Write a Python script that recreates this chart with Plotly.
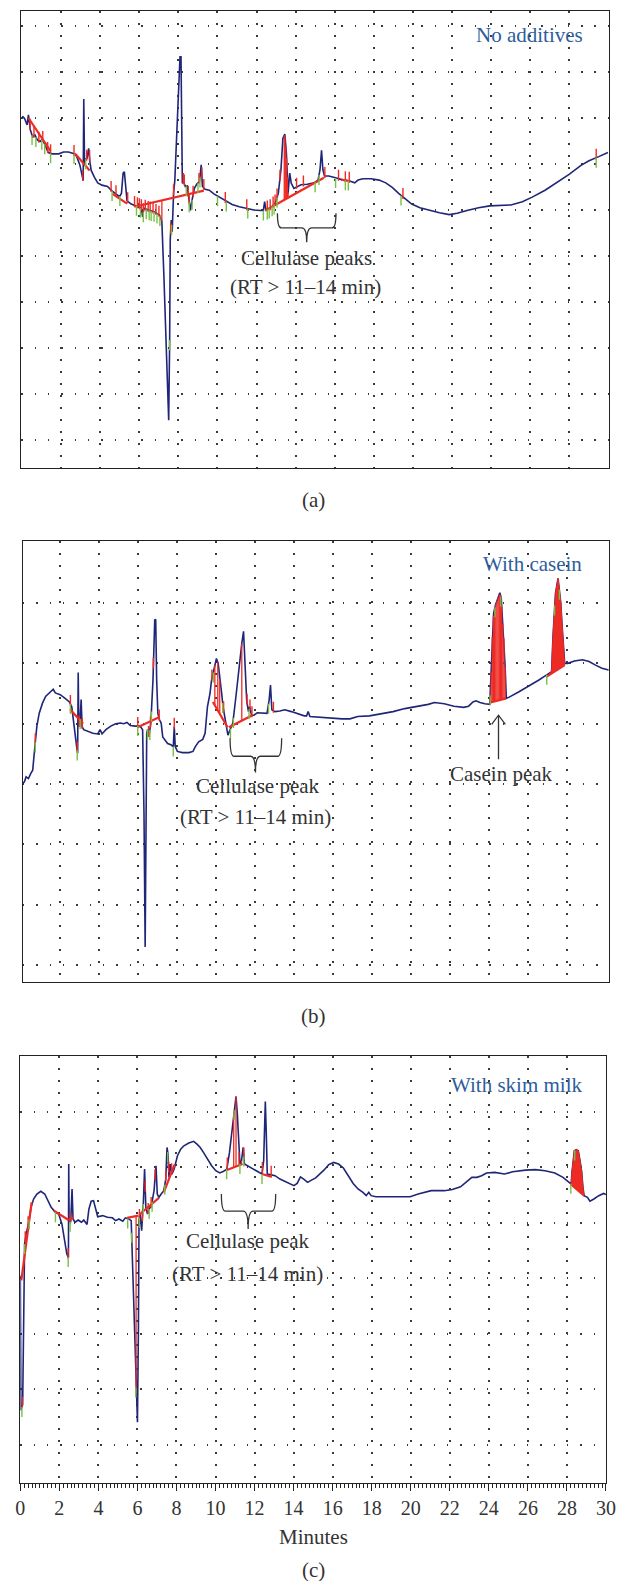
import numpy as np
import plotly.graph_objects as go

# ---------------- DATA ----------------
# Panel (a) No additives: retention time (min), detector response (grid units)
A_T = [0.0,0.115,0.25,0.315,0.415,0.53,0.65,0.78,0.915,1.03,1.2,1.33,1.53,1.865,2.115,2.365,2.615,2.78,2.95,3.03,3.12,3.15,3.19,3.215,3.315,3.4,3.465,3.53,3.7,3.865,4.08,4.365,4.58,4.78,4.98,5.08,5.165,5.23,5.3,5.365,5.58,5.865,6.1,6.165,6.23,6.45,6.75,7.03,7.15,7.25,7.38,7.5,7.55,7.58,7.63,7.68,7.75,7.815,7.9,8.0,8.08,8.13,8.165,8.2,8.265,8.35,8.45,8.53,8.615,8.7,8.815,8.95,9.08,9.165,9.23,9.365,9.58,9.815,10.08,10.415,10.75,11.115,11.48,11.865,12.2,12.35,12.415,12.48,12.7,12.95,13.115,13.25,13.35,13.45,13.53,13.615,13.7,13.78,13.915,14.08,14.28,14.6,14.95,15.15,15.25,15.33,15.4,15.48,15.7,15.95,16.2,16.45,16.7,16.92,17.03,17.2,17.45,17.87,18.28,18.62,18.95,19.28,19.62,19.95,20.37,20.87,21.37,21.87,22.28,22.78,23.37,23.95,24.53,25.03,25.62,26.12,26.78,27.45,28.03,28.62,29.03,29.53,30.0]
A_Y = [7.04,6.99,6.85,7.07,6.74,6.59,6.63,6.52,6.49,6.54,6.38,6.25,6.22,6.22,6.26,6.26,6.23,6.17,5.98,5.80,5.64,7.41,6.0,6.09,6.12,6.34,6.04,5.86,5.71,5.59,5.54,5.51,5.42,5.35,5.29,5.36,5.80,5.83,5.51,5.20,5.13,5.09,5.04,4.85,5.04,5.0,4.96,4.89,4.75,3.62,1.81,0.43,2.17,4.35,4.78,4.53,5.36,5.65,6.52,7.61,8.33,8.33,6.88,5.58,5.62,5.51,5.52,5.22,4.99,5.22,5.47,5.57,5.62,5.98,5.51,5.45,5.43,5.35,5.28,5.19,5.12,5.07,5.04,5.0,4.99,4.99,5.18,5.0,5.04,5.14,5.36,5.87,6.56,6.65,6.23,5.36,5.8,5.58,5.47,5.51,5.55,5.56,5.59,5.65,5.87,6.30,5.87,5.74,5.74,5.71,5.68,5.65,5.64,5.61,5.59,5.65,5.68,5.68,5.65,5.59,5.49,5.36,5.24,5.13,5.05,4.99,4.94,4.90,4.93,4.99,5.05,5.09,5.10,5.11,5.18,5.28,5.43,5.61,5.78,5.97,6.07,6.16,6.25]
A_BASE = [(0.32,7.0,1.45,6.28),(2.7,6.23,3.45,5.86),(4.62,5.35,5.37,5.14),(5.75,5.07,9.3,5.42),(12.45,4.99,15.45,5.70),(16.35,5.66,16.8,5.62)]
A_DROP_T = [7.15,13.42,13.46,13.5,13.54,13.58,13.62]
A_AREAS = []
A_RED_T = [0.4,0.6,0.85,1.05,1.3,1.45,2.65,3.1,3.3,3.45,4.55,4.8,5.4,5.75,5.9,6.0,6.1,6.2,6.3,6.45,6.55,6.7,6.85,7.0,7.6,7.75,8.25,8.3,8.5,8.55,8.75,9.05,9.2,9.3,10.4,11.5,12.55,12.7,12.85,12.95,13.05,13.2,14.05,14.4,15.5,16.2,16.55,16.75,19.5,29.4]
A_GREEN_T = [0.5,0.7,1.0,1.15,1.45,2.65,3.25,4.6,5.0,5.85,6.05,6.2,6.35,6.5,6.6,6.75,6.9,7.05,7.55,7.65,8.4,8.55,8.7,9.0,9.1,10.0,10.45,11.55,12.35,12.55,12.65,12.8,12.9,13.05,15.0,15.2,16.05,16.55,16.7,19.4,29.4]

# Panel (b) With casein
B_T = [0.12,0.2,0.28,0.4,0.53,0.62,0.73,0.83,0.95,1.12,1.28,1.5,1.67,1.78,2.03,2.28,2.5,2.62,2.73,2.87,2.92,2.95,2.98,3.03,3.1,3.15,3.23,3.45,3.7,3.95,4.07,4.17,4.37,4.62,4.87,5.12,5.28,5.45,5.62,5.87,6.12,6.25,6.32,6.38,6.43,6.46,6.5,6.57,6.67,6.78,6.87,6.92,6.97,7.03,7.12,7.2,7.28,7.4,7.53,7.7,7.82,7.87,7.92,8.03,8.28,8.62,8.83,8.95,9.12,9.33,9.45,9.57,9.7,9.78,9.9,10.03,10.12,10.2,10.3,10.37,10.5,10.62,10.73,10.87,11.03,11.2,11.33,11.42,11.5,11.58,11.67,11.73,11.83,11.95,12.12,12.37,12.62,12.73,12.8,12.87,13.03,13.28,13.53,13.87,14.2,14.53,14.65,14.73,14.82,15.2,15.87,16.47,16.87,17.27,17.87,18.48,19.08,19.68,20.28,20.88,21.2,21.7,22.2,22.7,22.95,23.17,23.33,23.53,23.78,24.03,24.12,24.17,24.23,24.33,24.45,24.55,24.62,24.68,24.75,24.82,24.88,25.03,25.53,26.03,26.53,26.95,27.2,27.27,27.33,27.4,27.53,27.6,27.67,27.73,27.8,27.87,28.03,28.37,28.78,29.12,29.45,29.78,30.12]
B_Y = [3.01,3.04,3.12,3.09,3.18,3.23,3.62,3.95,4.17,4.34,4.45,4.51,4.57,4.51,4.48,4.42,4.36,4.28,3.95,3.62,3.51,4.85,4.01,3.95,4.40,3.95,3.90,3.87,3.84,3.83,3.90,3.83,3.90,3.96,4.0,4.01,4.0,4.02,3.97,3.96,3.96,3.90,2.51,0.30,2.5,3.84,3.90,3.78,4.01,4.72,5.72,5.73,4.72,4.17,4.06,4.01,3.78,3.73,3.67,3.65,3.62,3.95,3.62,3.54,3.52,3.52,3.54,3.62,3.70,3.74,3.84,4.28,4.50,4.72,4.89,5.08,5.0,4.72,4.50,4.28,4.01,3.81,3.90,4.01,4.45,5.0,5.33,5.53,5.0,4.39,4.2,4.28,4.14,4.14,4.18,4.17,4.17,4.39,4.64,4.23,4.2,4.21,4.23,4.2,4.16,4.13,4.13,4.2,4.12,4.11,4.10,4.08,4.08,4.12,4.13,4.16,4.20,4.25,4.28,4.32,4.35,4.33,4.29,4.27,4.29,4.36,4.38,4.35,4.33,4.32,5.0,5.55,5.83,5.97,6.08,6.17,6.08,5.72,5.50,4.94,4.42,4.44,4.53,4.62,4.72,4.81,4.86,5.44,5.88,6.16,6.41,6.22,6.0,5.66,5.28,5.0,5.0,5.04,5.06,5.03,4.97,4.92,4.89]
B_BASE = [(2.53,4.24,3.2,4.0),(6.0,3.94,7.12,4.11),(9.85,4.36,10.6,3.94),(10.67,3.94,11.87,4.14),(24.07,4.35,24.87,4.42),(26.95,4.78,27.87,4.97)]
B_DROP_T = [9.95,10.1,10.2,11.33,24.1,24.16,24.22,24.28,24.34,24.4,24.46,24.52,24.58,24.64,24.7,24.76,24.82]
B_AREAS = [(26.95,27.87)]
B_RED_T = [0.75,2.55,2.9,3.0,3.15,6.0,6.55,6.65,6.8,7.1,7.87,9.8,10.4,11.6,11.75,11.85,12.95]
B_GREEN_T = [0.75,2.55,2.9,3.05,6.0,6.5,6.62,6.7,7.82,9.87,10.35,10.75,10.9,11.7,12.7,24.05,24.3,24.6,26.95,27.35,27.6]

# Panel (c) With skim milk
C_T = [0.0,0.03,0.12,0.15,0.18,0.22,0.3,0.415,0.55,0.68,0.85,1.05,1.25,1.415,1.58,1.8,1.965,2.13,2.25,2.38,2.465,2.48,2.5,2.58,2.65,2.7,2.8,2.965,3.13,3.25,3.415,3.515,3.63,3.75,3.85,3.965,4.215,4.465,4.715,4.88,5.05,5.25,5.38,5.55,5.68,5.8,5.915,6.0,6.05,6.08,6.13,6.215,6.3,6.365,6.43,6.515,6.6,6.715,6.85,6.95,7.015,7.1,7.215,7.35,7.45,7.515,7.565,7.615,7.68,7.765,7.88,8.05,8.215,8.38,8.63,8.88,9.05,9.215,9.38,9.58,9.8,10.015,10.215,10.415,10.58,10.715,10.85,10.965,11.05,11.115,11.18,11.25,11.33,11.415,11.48,11.63,11.88,12.13,12.38,12.465,12.515,12.55,12.6,12.65,12.8,13.05,13.3,13.55,13.8,14.015,14.18,14.35,14.515,14.715,14.915,15.13,15.55,15.8,16.05,16.3,16.55,16.8,17.05,17.3,17.55,17.72,17.85,17.97,18.22,18.72,19.3,19.97,20.38,21.05,21.72,22.13,22.55,22.88,23.13,23.38,23.63,23.88,24.3,24.8,25.22,25.88,26.38,26.88,27.38,27.8,28.05,28.22,28.25,28.32,28.38,28.48,28.58,28.67,28.75,28.82,28.88,29.05,29.18,29.38,29.63,29.88,30.0]
C_Y = [3.05,0.62,0.72,1.6,3.3,3.62,3.80,3.98,4.28,4.43,4.52,4.57,4.52,4.40,4.28,4.19,4.16,3.98,3.74,3.44,3.37,5.06,4.04,4.01,4.61,4.07,4.01,4.05,4.01,4.05,3.97,4.25,4.39,4.40,4.25,4.11,4.13,4.10,4.09,4.04,4.07,4.03,4.09,4.07,4.04,2.72,1.03,0.40,2.12,4.04,4.16,3.86,4.34,4.97,4.28,4.16,4.25,4.31,4.58,5.03,4.52,4.46,4.52,4.58,4.79,5.36,5.24,4.82,5.06,4.88,4.97,5.21,5.33,5.39,5.44,5.47,5.42,5.36,5.27,5.15,5.03,4.94,4.90,4.93,4.97,5.27,5.66,6.09,6.28,5.97,5.36,5.06,5.12,5.36,5.06,5.03,4.99,4.94,4.88,5.12,5.85,6.19,5.60,4.88,4.87,4.85,4.79,4.75,4.71,4.67,4.71,4.83,4.79,4.73,4.77,4.81,4.95,5.05,5.09,5.06,4.99,4.85,4.71,4.61,4.55,4.49,4.55,4.49,4.47,4.47,4.47,4.47,4.52,4.58,4.58,4.60,4.65,4.75,4.82,4.82,4.85,4.90,4.91,4.88,4.92,4.95,4.96,4.94,4.90,4.82,4.75,4.70,4.88,5.18,5.30,5.32,5.30,5.12,4.94,4.64,4.49,4.46,4.39,4.43,4.49,4.53,4.51]
C_BASE = [(0.05,2.96,0.58,4.37),(1.72,4.22,2.47,4.05),(2.47,4.05,2.72,4.09),(5.47,4.09,6.05,4.13),(6.1,4.15,7.1,4.45),(7.35,4.55,7.9,5.05),(10.55,4.95,11.38,5.06),(12.38,4.88,12.88,4.83),(28.18,4.70,28.88,4.49)]
C_DROP_T = [5.93,10.93,11.05,11.2,11.33]
C_AREAS = [(28.2,28.86)]
C_RED_T = [0.1,0.25,0.4,2.45,2.55,6.1,6.25,6.4,6.55,6.7,6.9,7.45,7.6,7.75,10.6,11.45,12.4,12.85]
C_GREEN_T = [0.08,0.22,0.45,1.8,2.45,2.55,5.5,5.7,5.915,6.1,6.3,6.6,6.75,7.4,7.55,10.57,10.95,11.25,11.45,12.38,28.2,28.4]

X_TICKS = list(range(0, 31, 2))
X_LABELS = [str(v) for v in X_TICKS]

# ---------------- STYLE / LAYOUT ----------------
W, H = 627, 1581
BLUE = '#1f2678'
RED = '#ee2a24'
GREEN = '#78c043'
TXT_BLUE = '#2d5d9b'
TXT = '#333333'
FONT = 'Liberation Serif'
FS = 21

PANELS = [
    dict(xpx=(16.7, 618.3), xr=(-0.05, 30.03), ypx=(11, 468), yr=(-0.609, 9.326), sp=46.0, rows=list(range(0, 10))),
    dict(xpx=(18.3, 619.3), xr=(0.115, 30.165), ypx=(541, 982), yr=(-0.282, 7.028), sp=60.33, rows=list(range(0, 7))),
    dict(xpx=(15.7, 615.7), xr=(0.0, 30.0), ypx=(1056, 1483.3), yr=(-0.70, 7.01), sp=55.4, rows=list(range(0, 7))),
]

DATA = [
    (A_T, A_Y, A_BASE, A_DROP_T, A_AREAS, A_RED_T, A_GREEN_T),
    (B_T, B_Y, B_BASE, B_DROP_T, B_AREAS, B_RED_T, B_GREEN_T),
    (C_T, C_Y, C_BASE, C_DROP_T, C_AREAS, C_RED_T, C_GREEN_T),
]


def seg_val(segs, t):
    for (t0, y0, t1, y1) in segs:
        if t0 <= t <= t1:
            return y0 + (y1 - y0) * (t - t0) / (t1 - t0)
    return None


fig = go.Figure()

for i, (P, D) in enumerate(zip(PANELS, DATA)):
    tt, yy, base, drops, areas, reds, greens = D
    sfx = '' if i == 0 else str(i + 1)
    xa, ya = 'x' + sfx, 'y' + sfx
    sp = P['sp']

    fig.add_trace(go.Scatter(x=tt, y=yy, mode='lines', line=dict(color=BLUE, width=1.6),
                             xaxis=xa, yaxis=ya, hoverinfo='skip'))
    for (t0, t1) in areas:
        inside = [(t, y) for t, y in zip(tt, yy) if t0 < t < t1]
        b0, b1 = seg_val(base, t0), seg_val(base, t1)
        xs = [t0] + [p[0] for p in inside] + [t1, t0]
        ys = [b0] + [p[1] for p in inside] + [b1, b0]
        fig.add_trace(go.Scatter(x=xs, y=ys, mode='lines', fill='toself', fillcolor=RED,
                                 line=dict(color=RED, width=1), xaxis=xa, yaxis=ya, hoverinfo='skip'))
    xs, ys = [], []
    for t in drops:
        b = seg_val(base, t)
        if b is None:
            continue
        xs += [t, t, None]
        ys += [b, float(np.interp(t, tt, yy)), None]
    fig.add_trace(go.Scatter(x=xs, y=ys, mode='lines', line=dict(color=RED, width=1.3),
                             xaxis=xa, yaxis=ya, hoverinfo='skip'))
    xs, ys = [], []
    for (t0, y0, t1, y1) in base:
        xs += [t0, t1, None]
        ys += [y0, y1, None]
    fig.add_trace(go.Scatter(x=xs, y=ys, mode='lines', line=dict(color=RED, width=2.2),
                             xaxis=xa, yaxis=ya, hoverinfo='skip'))
    xs, ys = [], []
    for t in reds:
        y0 = float(np.interp(t, tt, yy))
        xs += [t, t, None]
        ys += [y0 - 2 / sp, y0 + 9 / sp, None]
    fig.add_trace(go.Scatter(x=xs, y=ys, mode='lines', line=dict(color=RED, width=1.4),
                             xaxis=xa, yaxis=ya, hoverinfo='skip'))
    xs, ys = [], []
    for t in greens:
        y0 = float(np.interp(t, tt, yy))
        xs += [t, t, None]
        ys += [y0, y0 - 10 / sp, None]
    fig.add_trace(go.Scatter(x=xs, y=ys, mode='lines', line=dict(color=GREEN, width=1.4),
                             xaxis=xa, yaxis=ya, hoverinfo='skip'))

layout = dict(width=W, height=H, margin=dict(l=0, r=0, t=0, b=0),
              paper_bgcolor='white', plot_bgcolor='white', showlegend=False,
              font=dict(family=FONT, size=FS, color=TXT))

for i, P in enumerate(PANELS):
    sfx = '' if i == 0 else str(i + 1)
    xdom = [P['xpx'][0] / W, P['xpx'][1] / W]
    ydom = [1 - P['ypx'][1] / H, 1 - P['ypx'][0] / H]
    last = (i == 2)
    xcfg = dict(domain=xdom, range=list(P['xr']), anchor='y' + sfx,
                showline=True, mirror=True, linecolor='#222', linewidth=1.3, zeroline=False,
                showgrid=True, gridcolor='#3a3a3a', gridwidth=1.5, griddash='1.5px,10.5px',
                tickmode='array', tickvals=(X_TICKS if last else X_TICKS[1:-1]),
                showticklabels=last, fixedrange=True)
    if last:
        xcfg.update(ticktext=X_LABELS, ticks='outside', ticklen=7, tickwidth=1, tickcolor='#222',
                    tickfont=dict(family=FONT, size=20, color=TXT),
                    minor=dict(dtick=0.2, tick0=0, ticks='outside', ticklen=3.5, tickwidth=0.8,
                               tickcolor='#222', showgrid=False))
    else:
        xcfg.update(ticks='')
    ycfg = dict(domain=ydom, range=list(P['yr']), anchor='x' + sfx,
                showline=True, mirror=True, linecolor='#222', linewidth=1.3, zeroline=False,
                showgrid=True, gridcolor='#3a3a3a', gridwidth=1.5, griddash='1.5px,11.83px',
                tickmode='array', tickvals=P['rows'], showticklabels=False, ticks='', fixedrange=True)
    layout['xaxis' + sfx] = xcfg
    layout['yaxis' + sfx] = ycfg

fig.update_layout(**layout)


def brace(xref, yref, tl, tr, tc, ytop, ymid, ylow):
    p = (f"M {tl},{ytop} Q {tl},{ymid} {tl+0.2},{ymid} L {tc-0.25},{ymid} "
         f"Q {tc},{ymid} {tc},{ylow} Q {tc},{ymid} {tc+0.25},{ymid} L {tr-0.2},{ymid} "
         f"Q {tr},{ymid} {tr},{ytop}")
    fig.add_shape(type='path', path=p, xref=xref, yref=yref, line=dict(color=TXT, width=1.3))


def txt(xref, yref, x, y, s, color=TXT, anchor='center'):
    fig.add_annotation(x=x, y=y, xref=xref, yref=yref, text=s, showarrow=False,
                       font=dict(family=FONT, size=FS, color=color), xanchor=anchor, yanchor='middle')

txt('x', 'y', 28.8, 8.80, 'No additives', TXT_BLUE, 'right')
brace('x', 'y', 13.07, 16.07, 14.57, 4.93, 4.61, 4.30)
txt('x', 'y', 14.57, 3.96, 'Cellulase peaks')
txt('x', 'y', 14.5, 3.33, '(RT > 11–14 min)')

txt('x2', 'y2', 28.85, 6.65, 'With casein', TXT_BLUE, 'right')
brace('x2', 'y2', 10.73, 13.37, 12.03, 3.76, 3.46, 3.19)
txt('x2', 'y2', 12.15, 2.97, 'Cellulase peak')
txt('x2', 'y2', 12.05, 2.45, '(RT > 11–14 min)')
txt('x2', 'y2', 24.65, 3.17, 'Casein peak')
fig.add_shape(type='line', xref='x2', yref='y2', x0=24.48, x1=24.48, y0=3.41, y1=4.13,
              line=dict(color=TXT, width=1.3))
fig.add_shape(type='path', xref='x2', yref='y2', path='M 24.13,3.99 L 24.48,4.14 L 24.83,3.99',
              line=dict(color=TXT, width=1.3))

txt('x3', 'y3', 28.87, 6.49, 'With skim milk', TXT_BLUE, 'right')
brace('x3', 'y3', 10.3, 13.08, 11.67, 4.52, 4.21, 3.89)
txt('x3', 'y3', 11.68, 3.68, 'Cellulase peak')
txt('x3', 'y3', 11.65, 3.08, '(RT > 11–14 min)')

for s, py in [('(a)', 500), ('(b)', 1016), ('Minutes', 1537), ('(c)', 1570)]:
    fig.add_annotation(x=316 / W, y=1 - py / H, xref='paper', yref='paper', text=s, showarrow=False,
                       font=dict(family=FONT, size=FS, color=TXT), xanchor='center', yanchor='middle')

fig.write_html('out.html', config={'displayModeBar': False},
               post_script="document.body.style.margin='0';document.body.style.padding='0';"
                           "document.documentElement.style.overflow='hidden';document.body.style.overflow='hidden';")
